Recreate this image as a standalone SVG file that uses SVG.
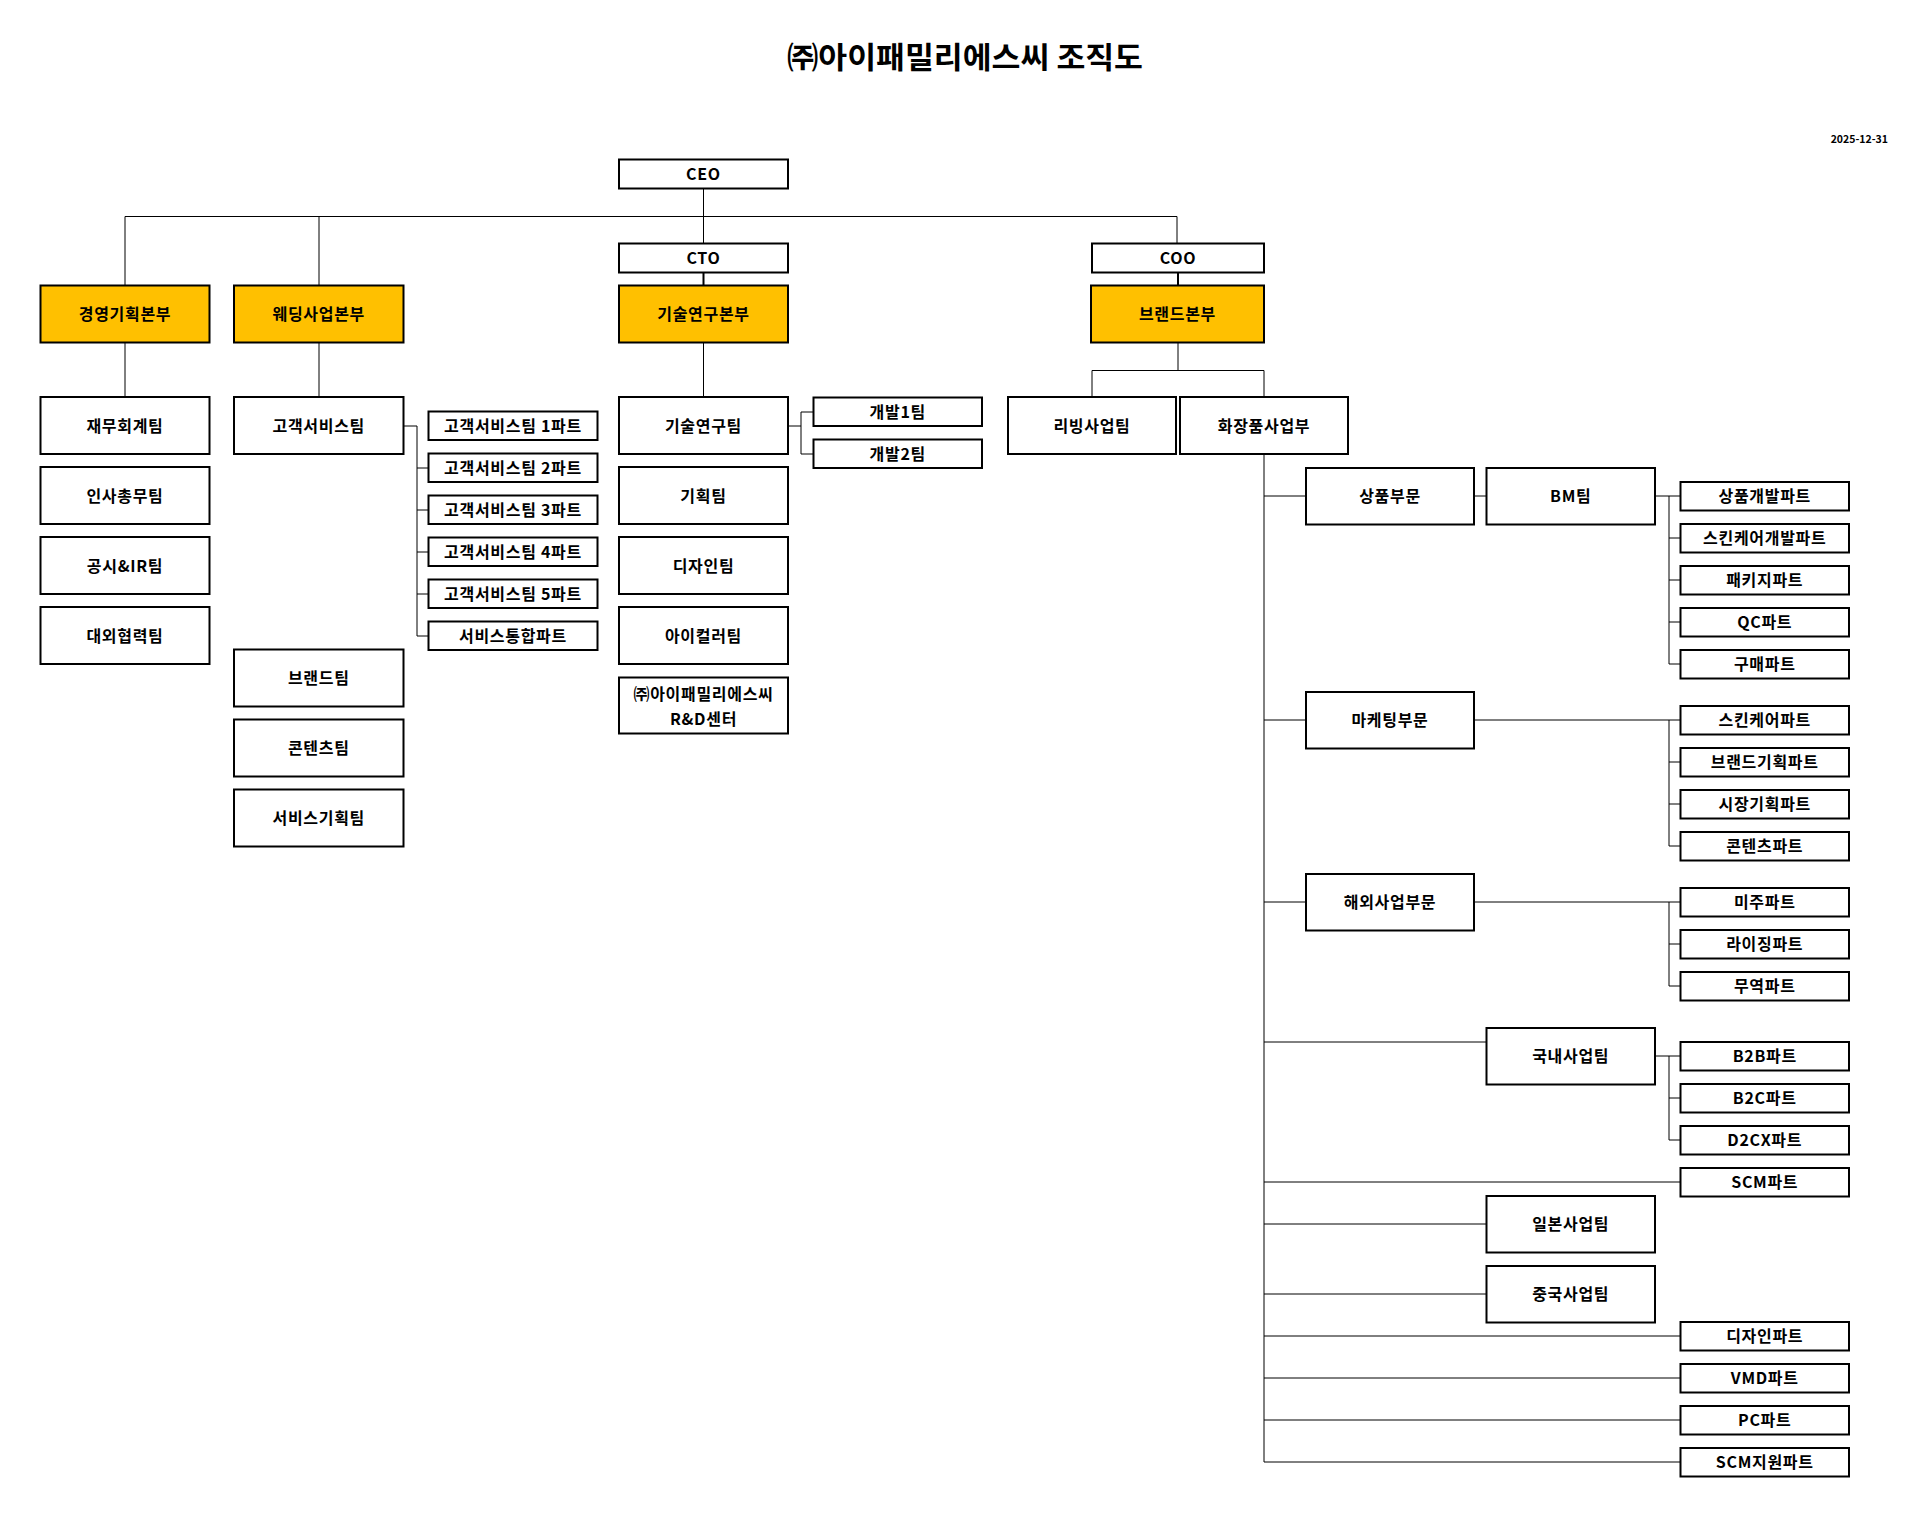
<svg xmlns="http://www.w3.org/2000/svg" width="1928" height="1524" viewBox="0 0 1928 1524">
<style>
.bx{fill:#fff;stroke:#000;stroke-width:2}
.yl{fill:#FFC000;stroke:#000;stroke-width:2}
.t{font-family:"Noto Sans CJK KR","Malgun Gothic",sans-serif;font-size:16px;letter-spacing:0.7px;font-weight:700;fill:#000;text-anchor:middle;dominant-baseline:central}
.ln{stroke:#000;stroke-width:1;fill:none}
.lt{stroke:#000;stroke-width:2;fill:none}
</style>
<rect width="1928" height="1524" fill="#fff"/>
<text x="965" y="55" textLength="356" lengthAdjust="spacingAndGlyphs" style="font-family:'Noto Sans CJK KR',sans-serif;font-size:30px;font-weight:700;text-anchor:middle;dominant-baseline:central">㈜아이패밀리에스씨 조직도</text>
<text x="1888" y="138.5" style="font-family:'Noto Sans CJK KR',sans-serif;font-size:10.5px;font-weight:700;text-anchor:end;dominant-baseline:central">2025-12-31</text>

<g id="connectors">
<path class="ln" d="M703.5 188.5V243.5M125 216.5H1177M125 216.5V285.5M319 216.5V285.5M1177 216.5V243.5"/>
<path class="lt" d="M703.5 272.5V285.5M1178 272.5V285.5"/>
<path class="ln" d="M125 342.5V397M319 342.5V397M703.5 342.5V397"/>
<path class="ln" d="M1178 342.5V370.5M1092 370.5H1264M1092 370.5V397M1264 370.5V397"/>
<path class="ln" d="M403.5 426H417M417 426V636M417 468H428.5M417 510H428.5M417 552H428.5M417 594H428.5M417 636H428.5"/>
<path class="ln" d="M788 426H801M801 412V454M801 412H813.5M801 454H813.5"/>
<path class="ln" d="M1264 454V1462M1264 496H1306M1264 720H1306M1264 902H1306M1264 1042H1486.5M1264 1182H1680.5M1264 1224H1486.5M1264 1294H1486.5M1264 1336H1680.5M1264 1378H1680.5M1264 1420H1680.5M1264 1462H1680.5"/>
<path class="ln" d="M1474 496H1486.5M1655 496H1680.5M1669 496V664M1669 538H1680.5M1669 580H1680.5M1669 622H1680.5M1669 664H1680.5"/>
<path class="ln" d="M1474 720H1680.5M1669 720V846M1669 762H1680.5M1669 804H1680.5M1669 846H1680.5"/>
<path class="ln" d="M1474 902H1680.5M1669 902V986M1669 944H1680.5M1669 986H1680.5"/>
<path class="ln" d="M1655 1056H1680.5M1669 1056V1140M1669 1098H1680.5M1669 1140H1680.5"/>
</g>

<g id="ceo"><rect class="bx" x="619" y="159.5" width="169" height="29"/><text class="t" x="703.5" y="173">CEO</text></g>
<g id="cto"><rect class="bx" x="619" y="243.5" width="169" height="29"/><text class="t" x="703.5" y="257">CTO</text></g>
<g id="coo"><rect class="bx" x="1092" y="243.5" width="172" height="29"/><text class="t" x="1178" y="257">COO</text></g>

<g id="hq-mgmt"><rect class="yl" x="40.5" y="285.5" width="169" height="57"/><text class="t" x="125" y="313">경영기획본부</text></g>
<g id="hq-wedding"><rect class="yl" x="234" y="285.5" width="169.5" height="57"/><text class="t" x="318.75" y="313">웨딩사업본부</text></g>
<g id="hq-tech"><rect class="yl" x="619" y="285.5" width="169" height="57"/><text class="t" x="703.5" y="313">기술연구본부</text></g>
<g id="hq-brand"><rect class="yl" x="1091" y="285.5" width="173" height="57"/><text class="t" x="1177.5" y="313">브랜드본부</text></g>

<g id="a1"><rect class="bx" x="40.5" y="397" width="169" height="57"/><text class="t" x="125" y="424.5">재무회계팀</text></g>
<g id="a2"><rect class="bx" x="40.5" y="467" width="169" height="57"/><text class="t" x="125" y="494.5">인사총무팀</text></g>
<g id="a3"><rect class="bx" x="40.5" y="537" width="169" height="57"/><text class="t" x="125" y="564.5">공시&amp;IR팀</text></g>
<g id="a4"><rect class="bx" x="40.5" y="607" width="169" height="57"/><text class="t" x="125" y="634.5">대외협력팀</text></g>

<g id="b1"><rect class="bx" x="234" y="397" width="169.5" height="57"/><text class="t" x="318.75" y="424.5">고객서비스팀</text></g>
<g id="b2"><rect class="bx" x="234" y="649.5" width="169.5" height="57"/><text class="t" x="318.75" y="677">브랜드팀</text></g>
<g id="b3"><rect class="bx" x="234" y="719.5" width="169.5" height="57"/><text class="t" x="318.75" y="747">콘텐츠팀</text></g>
<g id="b4"><rect class="bx" x="234" y="789.5" width="169.5" height="57"/><text class="t" x="318.75" y="817">서비스기획팀</text></g>

<g id="c1"><rect class="bx" x="428.5" y="411.5" width="169" height="28.5"/><text class="t" x="513" y="425">고객서비스팀 1파트</text></g>
<g id="c2"><rect class="bx" x="428.5" y="453.5" width="169" height="28.5"/><text class="t" x="513" y="467">고객서비스팀 2파트</text></g>
<g id="c3"><rect class="bx" x="428.5" y="495.5" width="169" height="28.5"/><text class="t" x="513" y="509">고객서비스팀 3파트</text></g>
<g id="c4"><rect class="bx" x="428.5" y="537.5" width="169" height="28.5"/><text class="t" x="513" y="551">고객서비스팀 4파트</text></g>
<g id="c5"><rect class="bx" x="428.5" y="579.5" width="169" height="28.5"/><text class="t" x="513" y="593">고객서비스팀 5파트</text></g>
<g id="c6"><rect class="bx" x="428.5" y="621.5" width="169" height="28.5"/><text class="t" x="513" y="635">서비스통합파트</text></g>

<g id="d1"><rect class="bx" x="619" y="397" width="169" height="57"/><text class="t" x="703.5" y="424.5">기술연구팀</text></g>
<g id="d2"><rect class="bx" x="619" y="467" width="169" height="57"/><text class="t" x="703.5" y="494.5">기획팀</text></g>
<g id="d3"><rect class="bx" x="619" y="537" width="169" height="57"/><text class="t" x="703.5" y="564.5">디자인팀</text></g>
<g id="d4"><rect class="bx" x="619" y="607" width="169" height="57"/><text class="t" x="703.5" y="634.5">아이컬러팀</text></g>
<g id="d5"><rect class="bx" x="619" y="677.5" width="169" height="56"/><text class="t" x="703.5" y="693">㈜아이패밀리에스씨</text><text class="t" x="703.5" y="718">R&amp;D센터</text></g>

<g id="e1"><rect class="bx" x="813.5" y="397.5" width="168.5" height="28.5"/><text class="t" x="897.75" y="411">개발1팀</text></g>
<g id="e2"><rect class="bx" x="813.5" y="439.5" width="168.5" height="28.5"/><text class="t" x="897.75" y="453">개발2팀</text></g>

<g id="f1"><rect class="bx" x="1008" y="397" width="168" height="57"/><text class="t" x="1092" y="424.5">리빙사업팀</text></g>
<g id="g1"><rect class="bx" x="1180" y="397" width="168" height="57"/><text class="t" x="1264" y="424.5">화장품사업부</text></g>

<g id="h1"><rect class="bx" x="1306" y="468" width="168" height="56.5"/><text class="t" x="1390" y="495.25">상품부문</text></g>
<g id="h2"><rect class="bx" x="1306" y="692" width="168" height="56.5"/><text class="t" x="1390" y="719.25">마케팅부문</text></g>
<g id="h3"><rect class="bx" x="1306" y="874" width="168" height="56.5"/><text class="t" x="1390" y="901.25">해외사업부문</text></g>

<g id="i1"><rect class="bx" x="1486.5" y="468" width="168.5" height="56.5"/><text class="t" x="1570.75" y="495.25">BM팀</text></g>
<g id="i2"><rect class="bx" x="1486.5" y="1028" width="168.5" height="56.5"/><text class="t" x="1570.75" y="1055.25">국내사업팀</text></g>
<g id="i3"><rect class="bx" x="1486.5" y="1196" width="168.5" height="56.5"/><text class="t" x="1570.75" y="1223.25">일본사업팀</text></g>
<g id="i4"><rect class="bx" x="1486.5" y="1266" width="168.5" height="56.5"/><text class="t" x="1570.75" y="1293.25">중국사업팀</text></g>

<g id="p1"><rect class="bx" x="1680.5" y="482" width="168.5" height="28.5"/><text class="t" x="1764.75" y="495.25">상품개발파트</text></g>
<g id="p2"><rect class="bx" x="1680.5" y="524" width="168.5" height="28.5"/><text class="t" x="1764.75" y="537.25">스킨케어개발파트</text></g>
<g id="p3"><rect class="bx" x="1680.5" y="566" width="168.5" height="28.5"/><text class="t" x="1764.75" y="579.25">패키지파트</text></g>
<g id="p4"><rect class="bx" x="1680.5" y="608" width="168.5" height="28.5"/><text class="t" x="1764.75" y="621.25">QC파트</text></g>
<g id="p5"><rect class="bx" x="1680.5" y="650" width="168.5" height="28.5"/><text class="t" x="1764.75" y="663.25">구매파트</text></g>
<g id="p6"><rect class="bx" x="1680.5" y="706" width="168.5" height="28.5"/><text class="t" x="1764.75" y="719.25">스킨케어파트</text></g>
<g id="p7"><rect class="bx" x="1680.5" y="748" width="168.5" height="28.5"/><text class="t" x="1764.75" y="761.25">브랜드기획파트</text></g>
<g id="p8"><rect class="bx" x="1680.5" y="790" width="168.5" height="28.5"/><text class="t" x="1764.75" y="803.25">시장기획파트</text></g>
<g id="p9"><rect class="bx" x="1680.5" y="832" width="168.5" height="28.5"/><text class="t" x="1764.75" y="845.25">콘텐츠파트</text></g>
<g id="p10"><rect class="bx" x="1680.5" y="888" width="168.5" height="28.5"/><text class="t" x="1764.75" y="901.25">미주파트</text></g>
<g id="p11"><rect class="bx" x="1680.5" y="930" width="168.5" height="28.5"/><text class="t" x="1764.75" y="943.25">라이징파트</text></g>
<g id="p12"><rect class="bx" x="1680.5" y="972" width="168.5" height="28.5"/><text class="t" x="1764.75" y="985.25">무역파트</text></g>
<g id="p13"><rect class="bx" x="1680.5" y="1042" width="168.5" height="28.5"/><text class="t" x="1764.75" y="1055.25">B2B파트</text></g>
<g id="p14"><rect class="bx" x="1680.5" y="1084" width="168.5" height="28.5"/><text class="t" x="1764.75" y="1097.25">B2C파트</text></g>
<g id="p15"><rect class="bx" x="1680.5" y="1126" width="168.5" height="28.5"/><text class="t" x="1764.75" y="1139.25">D2CX파트</text></g>
<g id="p16"><rect class="bx" x="1680.5" y="1168" width="168.5" height="28.5"/><text class="t" x="1764.75" y="1181.25">SCM파트</text></g>
<g id="p17"><rect class="bx" x="1680.5" y="1322" width="168.5" height="28.5"/><text class="t" x="1764.75" y="1335.25">디자인파트</text></g>
<g id="p18"><rect class="bx" x="1680.5" y="1364" width="168.5" height="28.5"/><text class="t" x="1764.75" y="1377.25">VMD파트</text></g>
<g id="p19"><rect class="bx" x="1680.5" y="1406" width="168.5" height="28.5"/><text class="t" x="1764.75" y="1419.25">PC파트</text></g>
<g id="p20"><rect class="bx" x="1680.5" y="1448" width="168.5" height="28.5"/><text class="t" x="1764.75" y="1461.25">SCM지원파트</text></g>
</svg>
